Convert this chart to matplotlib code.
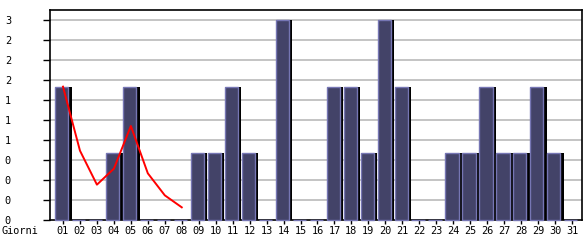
import matplotlib
matplotlib.use("Agg")
import matplotlib.pyplot as plt
import numpy as np

days = [f"{d:02d}" for d in range(1, 32)]
values = [2, 0, 0, 1, 2, 0, 0, 0, 1, 1, 2, 1, 0, 3, 0, 0, 2, 2, 1, 3, 2, 0, 0, 1, 1, 2, 1, 1, 2, 1, 0]
trend = [2.0, 1.04, 0.53, 0.77, 1.41, 0.70, 0.37, 0.19]
ytick_vals = [0, 0.3, 0.6, 0.9, 1.2, 1.5, 1.8, 2.1, 2.4, 2.7, 3.0]
ytick_labels = ["0", "0", "0", "0", "1", "1", "1", "2", "2", "2", "3"]
xlabel_text = "Giorni"

W, H = 585, 240
fig = plt.figure(figsize=(W / 100, H / 100), dpi=100)
ax = fig.add_axes([50 / W, 20 / H, 532 / W, 210 / H])

x = np.arange(1, len(values) + 1)
px = 1 / 16.97  # one pixel in data units (x)

ax.set_xlim(0.234, 31.59)
ax.set_ylim(0, 3.15)

for yv in ytick_vals[1:]:
    ax.axhline(yv, color="#b4b4b4", lw=1.1, zorder=0)

# shadow bars
ax.bar(x + 2.0 * px, values, width=13.5 * px, color="black", zorder=4, linewidth=0)
# main bars
ax.bar(x - 1.2 * px, values, width=13.2 * px, color="#434368", edgecolor="#7676b4",
       linewidth=1.0, zorder=5, clip_on=False)

ax.plot(x[:len(trend)], trend, color="#ff0000", lw=1.4, zorder=6)

ax.set_xticks(x)
ax.set_xticklabels(days, fontfamily="DejaVu Sans Mono", fontsize=7.4)
ax.set_yticks(ytick_vals)
ax.set_yticklabels(ytick_labels, fontfamily="DejaVu Sans Mono", fontsize=7.4, ha="left")
ax.tick_params(axis="y", length=5, width=1, pad=27.5)
ax.tick_params(axis="x", length=3, width=1, pad=1.5)
for s in ax.spines.values():
    s.set_color("black")
    s.set_linewidth(1.2)

fig.text(2 / W, 9 / H, xlabel_text, fontfamily="DejaVu Sans Mono", fontsize=7.4,
         ha="left", va="center")

fig.savefig("out.png", dpi=100)
